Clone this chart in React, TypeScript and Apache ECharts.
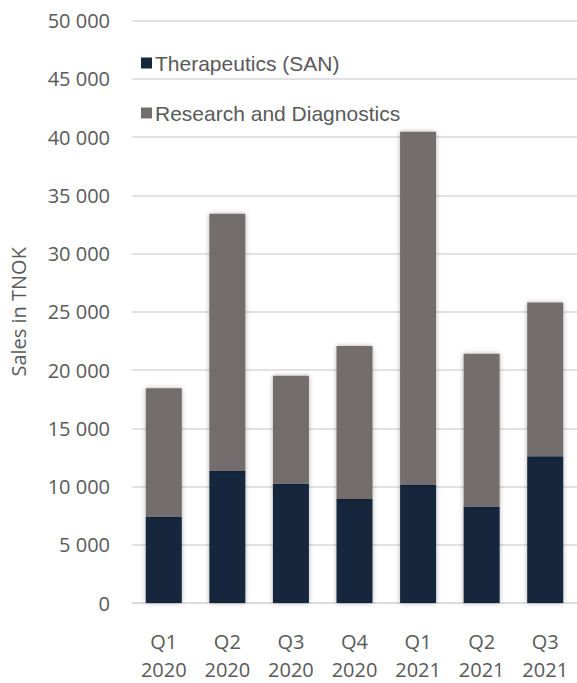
import React, { useEffect, useRef } from "react";
import * as echarts from "echarts";

const categories = ["Q1\n2020", "Q2\n2020", "Q3\n2020", "Q4\n2020", "Q1\n2021", "Q2\n2021", "Q3\n2021"];
const therapeutics = [7420, 11340, 10270, 8940, 10130, 8290, 12600];
const researchDiagnostics = [11020, 22080, 9250, 13120, 30340, 13110, 13200];
const seriesNames = ["Therapeutics (SAN)", "Research and Diagnostics"];
const yAxisTitle = "Sales in TNOK";

const fmt = (v: number) => String(v).replace(/\B(?=(\d{3})+(?!\d))/g, " ");

export default function App() {
  const ref = useRef<HTMLDivElement>(null);
  useEffect(() => {
    if (!ref.current) return;
    const chart = echarts.init(ref.current, null, { renderer: "svg" });
    const shadow = { shadowBlur: 5, shadowColor: "rgba(0,0,0,0.3)", shadowOffsetX: 0, shadowOffsetY: 0 };
    chart.setOption({
      animation: false,
      backgroundColor: "#ffffff",
      grid: { left: 128, top: 20.7, width: 451.5, height: 591, containLabel: false },
      legend: {
        orient: "vertical",
        left: 136,
        top: 46,
        itemWidth: 11,
        itemHeight: 11,
        itemGap: 26,
        icon: "rect",
        textStyle: { fontFamily: "Liberation Sans", fontSize: 21, color: "#595959", lineHeight: 24, padding: [0, 0, 0, -2] },
        data: seriesNames,
      },
      xAxis: {
        type: "category",
        data: categories,
        axisLine: { show: true, lineStyle: { color: "#d9d9d9", width: 1.5 } },
        axisTick: { show: false },
        axisLabel: { fontFamily: "Open Sans", fontSize: 20, color: "#595959", lineHeight: 28, margin: 24 },
      },
      yAxis: {
        type: "value",
        min: 0,
        max: 50000,
        interval: 5000,
        name: yAxisTitle,
        nameLocation: "middle",
        nameGap: 104,
        nameTextStyle: { fontFamily: "Open Sans", fontSize: 20, color: "#595959" },
        axisLine: { show: false },
        axisTick: { show: false },
        splitLine: { lineStyle: { color: "#d9d9d9", width: 1.5 } },
        axisLabel: { fontFamily: "Open Sans", fontSize: 20, color: "#595959", margin: 22, formatter: (v: number) => fmt(v) },
      },
      series: [
        {
          name: seriesNames[0],
          type: "bar",
          stack: "total",
          barWidth: 36,
          data: therapeutics,
          itemStyle: { color: "#15283d", ...shadow },
        },
        {
          name: seriesNames[1],
          type: "bar",
          stack: "total",
          barWidth: 36,
          data: researchDiagnostics,
          itemStyle: { color: "#736e6d", ...shadow },
        },
      ],
    });
    return () => chart.dispose();
  }, []);
  return <div ref={ref} style={{ position: "fixed", left: 0, top: 0, width: 577, height: 683 }} />;
}
